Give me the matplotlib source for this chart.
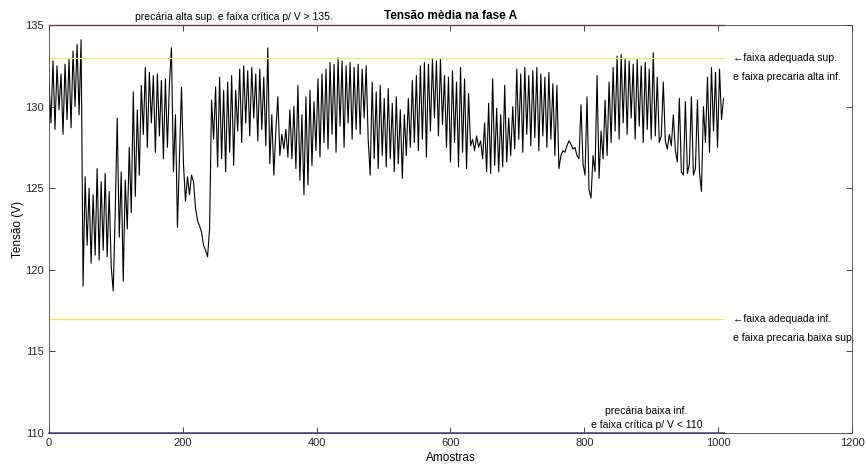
import numpy as np
import matplotlib
matplotlib.use("Agg")
import matplotlib.pyplot as plt

plt.rcParams['font.family'] = ['Liberation Sans', 'DejaVu Sans']

# Tensão (V), one value every 3 samples, read segment by segment
seg_000 = [131.5, 129.0, 132.8, 128.6, 132.5, 129.8, 132.0, 128.3, 132.6, 129.2, 132.9, 128.7, 133.4, 130.0, 133.8, 129.5, 134.1]
seg_051 = [119.0, 125.7, 121.5, 125.0, 120.4, 124.6, 120.9, 126.2, 120.6, 125.4, 121.2, 125.9, 120.8, 124.8, 120.2]
seg_096 = [118.7, 123.5, 129.3, 122.0, 126.0, 119.3, 125.5, 122.5, 127.5, 123.5, 130.9, 124.5, 129.8, 125.8, 131.3]
seg_141 = [128.3, 132.4, 127.5, 132.1, 129.0, 131.9, 127.2, 132.0, 128.2, 131.6, 126.8, 131.7, 127.5, 131.4]
seg_183 = [133.6, 126.0, 129.5, 122.6]
seg_195 = [127.0, 131.2, 126.5, 124.2, 125.7, 124.6, 125.8, 125.4, 123.8, 123.0, 122.7, 122.3, 121.5, 121.2, 120.8, 122.5]
seg_243 = [130.4, 128.0, 131.2, 126.3, 131.8, 126.8, 131.0, 126.0, 131.5, 127.2, 131.9, 126.4]
seg_279 = [131.0, 128.5, 132.3, 127.8, 132.5, 129.0, 132.2, 128.2, 132.4, 129.3, 132.0, 127.9, 132.3, 128.6, 131.8, 127.6]
seg_327 = [133.6, 126.5, 129.5, 125.8, 128.5, 130.6, 127.0]
seg_348 = [128.3, 127.4, 128.6, 126.9, 129.8]
seg_363 = [126.8, 130.0, 126.2, 131.3, 125.5, 129.5, 124.6, 130.6, 125.2, 131.0, 126.4, 130.3]
seg_399 = [127.3, 131.7, 126.9, 132.0, 127.8, 132.3, 127.4, 132.7, 128.3, 132.6, 127.2, 133.0, 128.8, 132.8,
           127.5, 132.5, 129.0, 132.7, 128.0, 132.4, 128.6, 132.6, 128.3, 132.3, 129.3, 132.5, 128.0]
seg_480 = [125.8, 131.5, 126.8, 130.9, 126.2, 131.3, 127.0, 130.5, 126.3, 131.1, 126.8, 130.2, 126.0, 130.6, 126.5, 129.8, 125.6, 129.5]
seg_534 = [127.0, 130.5, 127.5, 131.6, 127.8, 131.9, 127.3, 132.5, 128.0, 132.7, 126.9, 132.6, 128.5, 132.9, 129.3, 132.8, 128.2, 132.9, 128.9, 131.9]
seg_594 = [127.5, 131.8, 126.6, 132.2, 127.8, 131.5, 126.3, 132.4, 127.2, 131.7, 126.2, 130.8]
seg_630 = [127.6, 128.0, 127.3, 128.2, 127.5, 127.9]
seg_648 = [126.8, 129.0, 126.0, 130.2, 125.9, 131.7, 126.4, 129.9, 126.0, 129.5, 126.3, 131.3, 126.6, 129.3, 127.0]
seg_693 = [130.0, 127.4, 132.3, 128.0, 132.0, 127.2, 132.4, 128.3, 131.9, 127.6, 132.2, 128.1, 132.4, 127.3, 132.0, 128.2,
           131.8, 127.5, 132.1, 128.0, 131.4, 127.0]
seg_759 = [131.3, 126.2]
seg_765 = [127.0, 127.3, 127.2, 127.6, 127.9, 127.7, 127.4, 127.5, 127.0, 126.8]
seg_795 = [130.1, 126.5, 125.8, 130.6, 124.9, 124.4, 127.0, 126.0, 131.9, 125.6, 128.5, 126.8, 130.4]
seg_834 = [127.0, 131.5, 127.8, 132.4, 128.5, 133.1, 128.0, 133.2, 129.0, 132.9, 128.3, 132.8, 129.3, 132.6,
           128.0, 132.9, 128.8, 132.5, 127.8, 132.7, 128.6, 132.3, 128.0, 133.3, 128.2, 131.8, 127.8]
seg_915 = [128.2, 131.5, 127.9, 127.4, 128.3, 127.6, 129.5, 127.3]
seg_939 = [126.6, 130.5, 126.0, 125.8, 130.3, 125.9, 126.5, 130.6, 125.8, 126.2, 130.4, 126.0, 124.8]
seg_978 = [130.0, 127.8, 131.8, 127.2, 132.4, 128.5, 132.1, 127.5, 132.3, 129.2, 130.5]

segments = [seg_000, seg_051, seg_096, seg_141, seg_183, seg_195, seg_243, seg_279, seg_327, seg_348,
            seg_363, seg_399, seg_480, seg_534, seg_594, seg_630, seg_648, seg_693, seg_759, seg_765,
            seg_795, seg_834, seg_915, seg_939, seg_978]
tensao = np.concatenate([np.array(s, dtype=float) for s in segments])
passo = 3
amostras = np.arange(len(tensao)) * passo

# limit lines
limite_critico_alto = 135
limite_adequado_sup = 133
limite_adequado_inf = 117
limite_critico_baixo = 110

fig = plt.figure(figsize=(8.65, 4.66), dpi=100)
ax = fig.add_axes([0.0566, 0.0708, 0.9284, 0.8756])

ax.plot(amostras, tensao, color='black', linewidth=0.8)
xmax = amostras[-1]
ax.plot([0, xmax], [limite_critico_alto] * 2, color='#b8403f', linewidth=1.0, clip_on=False)
ax.plot([0, xmax], [limite_adequado_sup] * 2, color='#f0ec60', linewidth=0.9)
ax.plot([0, xmax], [limite_adequado_inf] * 2, color='#f0ec60', linewidth=0.9)
ax.plot([0, xmax], [limite_critico_baixo] * 2, color='#4a4aa0', linewidth=1.2, clip_on=False)

ax.set_xlim(0, 1200)
ax.set_ylim(110, 135)
ax.set_xticks(np.arange(0, 1201, 200))
ax.set_yticks(np.arange(110, 136, 5))
ax.tick_params(direction='in', top=True, right=True, length=4, width=0.6,
               labelsize=8, colors='#262626')
for sp in ax.spines.values():
    sp.set_color('#404040')
    sp.set_linewidth(0.6)

ax.set_title('Tensão mèdia na fase A', fontsize=8.5, fontweight='bold', pad=4)
ax.set_xlabel('Amostras', fontsize=8.5, labelpad=3)
ax.set_ylabel('Tensão (V)', fontsize=8.5, labelpad=1)

fs = 7.5
ax.text(276, 135.2, 'precária alta sup. e faixa crítica p/ V > 135.', ha='center', va='bottom',
        fontsize=fs, clip_on=False)
ax.text(1022, 133.0, '\u2190faixa adequada sup.', ha='left', va='center', fontsize=fs)
ax.text(1022, 131.8, 'e faixa precaria alta inf.', ha='left', va='center', fontsize=fs)
ax.text(1022, 117.0, '\u2190faixa adequada inf.', ha='left', va='center', fontsize=fs)
ax.text(1022, 115.8, 'e faixa precaria baixa sup.', ha='left', va='center', fontsize=fs)
ax.text(893, 111.35, 'precária baixa inf.', ha='center', va='center', fontsize=fs)
ax.text(893, 110.5, 'e faixa crítica p/ V < 110', ha='center', va='center', fontsize=fs)

fig.savefig('out.png', dpi=100)
